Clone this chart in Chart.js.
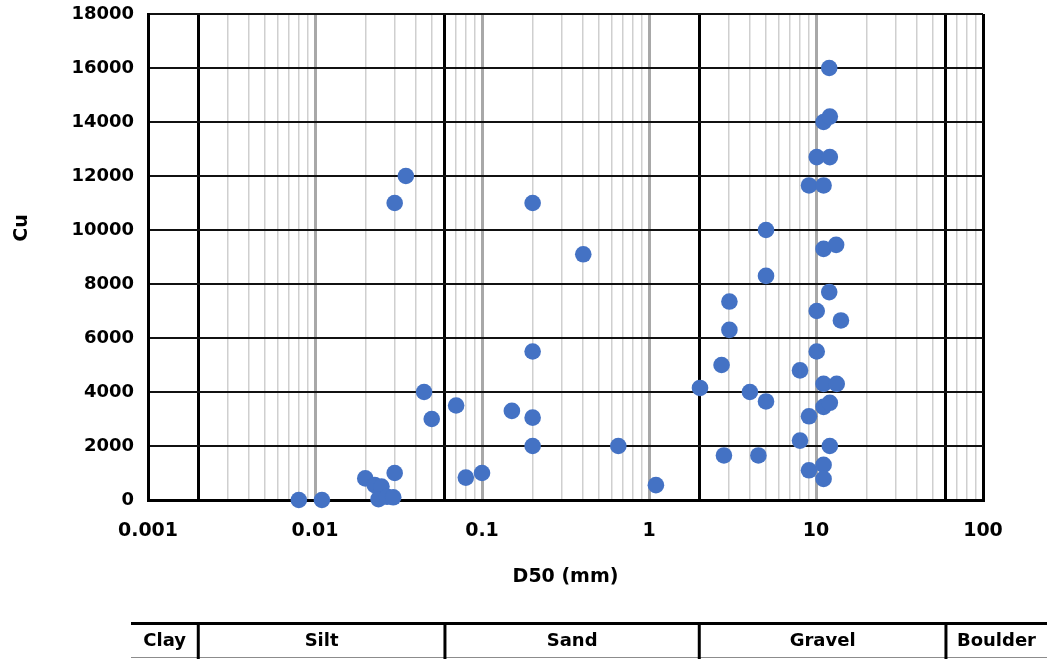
<!DOCTYPE html>
<html>
<head>
<meta charset="utf-8">
<script src="https://cdn.jsdelivr.net/npm/chart.js@4/dist/chart.umd.min.js"></script>
<style>
  html, body { margin: 0; padding: 0; background: #fff; }
  #wrap { width: 1047px; height: 659px; }
</style>
</head>
<body>
<div id="wrap"><canvas id="cuChart" width="1047" height="659"></canvas></div>
<script>
// D50 (mm) and Cu of each sample
const d50 = [
  0.008, 0.011, 0.020, 0.0228, 0.025, 0.024, 0.027, 0.0294, 0.030, 0.030,
  0.035, 0.045, 0.050, 0.070, 0.080, 0.100, 0.151, 0.201, 0.201, 0.201,
  0.201, 0.404, 0.655, 1.10, 2.02, 2.72, 2.81, 3.03, 3.03, 4.02,
  4.52, 5.02, 5.02, 5.02, 8.02, 8.02, 9.08, 9.08, 9.08, 10.1,
  10.1, 10.1, 11.1, 11.1, 11.1, 11.1, 11.1, 11.1, 11.1, 12.0,
  12.1, 12.1, 12.0, 12.1, 12.1, 13.2, 13.3, 14.1,
];
const cu = [
  0, 0, 800, 550, 500, 30, 120, 100, 1000, 11000,
  12000, 4000, 3000, 3500, 830, 1000, 3300, 11000, 5500, 3050,
  2000, 9100, 2000, 550, 4150, 5000, 1650, 7350, 6300, 4000,
  1650, 10000, 8300, 3650, 4800, 2200, 11650, 3100, 1100, 12700,
  7000, 5500, 14000, 11650, 9300, 4300, 3450, 1300, 780, 16000,
  14200, 12700, 7700, 3600, 2000, 9450, 4300, 6650,
];

// axis setup
const xTickLabels = ["0.001", "0.01", "0.1", "1", "10", "100"];
const gridDecades = [0.001, 0.01, 0.1, 1, 10];
const gridSteps = [1, 2, 3, 4, 5, 6, 7, 8, 9];
const yTicks = [0, 2000, 4000, 6000, 8000, 10000, 12000, 14000, 16000, 18000];

// soil classes and their boundaries (mm)
const soilClasses = ["Clay", "Silt", "Sand", "Gravel", "Boulder"];
const soilBounds = [0.002, 0.06, 2, 60];

const gridValues = [];
gridDecades.forEach((d) => {
  gridSteps.forEach((s) => gridValues.push(Number((d * s).toPrecision(3))));
});
gridValues.push(100);

const same = (a, b) => Math.abs(a / b - 1) < 1e-6;

function gridKind(v) {
  if (v >= 100 || soilBounds.some((b) => same(v, b))) return "bound";
  if (xTickLabels.some((t) => same(v, Number(t)))) return "decade";
  return "minor";
}

const tickFont = { family: "DejaVu Sans", size: 18, weight: "bold" };

// bottom strip with soil class names
const soilStrip = {
  id: "soilStrip",
  afterDraw(chart) {
    const ctx = chart.ctx;
    const xs = chart.scales.x;
    const top = 623.5;
    const bottom = chart.height;
    const left = chart.chartArea.left - 17;
    const right = chart.width;
    const edges = [left, ...soilBounds.map((b) => xs.getPixelForValue(b)), right];

    ctx.save();
    ctx.strokeStyle = "#000";
    ctx.lineWidth = 3;
    ctx.beginPath();
    ctx.moveTo(left, top);
    ctx.lineTo(right, top);
    ctx.stroke();

    ctx.strokeStyle = "#8c8c8c";
    ctx.lineWidth = 1;
    ctx.beginPath();
    ctx.moveTo(left, bottom - 1.5);
    ctx.lineTo(right, bottom - 1.5);
    ctx.stroke();

    ctx.strokeStyle = "#000";
    ctx.lineWidth = 3;
    for (let i = 1; i < edges.length - 1; i++) {
      ctx.beginPath();
      ctx.moveTo(edges[i], top);
      ctx.lineTo(edges[i], bottom);
      ctx.stroke();
    }

    ctx.fillStyle = "#000";
    ctx.font = "bold 18px 'DejaVu Sans'";
    ctx.textAlign = "center";
    ctx.textBaseline = "middle";
    soilClasses.forEach((name, i) => {
      ctx.fillText(name, (edges[i] + edges[i + 1]) / 2, 641);
    });

    // y axis title
    ctx.save();
    ctx.translate(22, 228);
    ctx.rotate(-Math.PI / 2);
    ctx.font = "bold 19px 'DejaVu Sans'";
    ctx.fillText("Cu", 0, 0);
    ctx.restore();

    ctx.restore();
  },
};

new Chart(document.getElementById("cuChart"), {
  type: "scatter",
  data: {
    datasets: [
      {
        label: "Cu",
        data: d50.map((x, i) => ({ x, y: cu[i] })),
        backgroundColor: "#4472C4",
        borderColor: "#4472C4",
        borderWidth: 0,
        pointRadius: 8.3,
        pointHoverRadius: 8.3,
        clip: false,
      },
    ],
  },
  options: {
    responsive: false,
    animation: false,
    events: [],
    layout: { autoPadding: false, padding: { top: 14, right: 64, bottom: 59, left: 0 } },
    plugins: {
      legend: { display: false },
      tooltip: { enabled: false },
    },
    scales: {
      x: {
        type: "logarithmic",
        min: 0.001,
        max: 100,
        afterBuildTicks(scale) {
          scale.ticks = gridValues.map((v) => ({ value: v, major: false }));
        },
        afterFit(scale) {
          scale.height = 100;
        },
        ticks: {
          autoSkip: false,
          maxRotation: 0,
          minRotation: 0,
          padding: 20,
          color: "#000",
          font: { family: "DejaVu Sans", size: 19, weight: "bold" },
          callback(value) {
            const s = String(value);
            return xTickLabels.includes(s) ? s : "";
          },
        },
        grid: {
          z: -2,
          drawTicks: false,
          color(ctx) {
            const k = gridKind(ctx.tick.value);
            if (k === "bound") return "#000";
            if (k === "decade") return "#a8a8a8";
            return "#cfcfcf";
          },
          lineWidth(ctx) {
            const k = gridKind(ctx.tick.value);
            if (k === "minor") return 1.5;
            return 3;
          },
        },
        border: { color: "#000", width: 3 },
        title: {
          display: true,
          text: "D50 (mm)",
          color: "#000",
          font: { family: "DejaVu Sans", size: 19, weight: "bold" },
          padding: { top: 0, bottom: 12 },
        },
      },
      y: {
        min: 0,
        max: 18000,
        afterBuildTicks(scale) {
          scale.ticks = yTicks.map((v) => ({ value: v }));
        },
        afterFit(scale) {
          scale.width = 148;
          scale.paddingTop = 0;
          scale.paddingBottom = 0;
        },
        ticks: {
          padding: 14,
          color: "#000",
          font: tickFont,
          callback: (v) => String(v),
        },
        grid: {
          z: -1,
          drawTicks: false,
          color: "#111",
          lineWidth: 2,
        },
        border: { color: "#000", width: 3 },
      },
    },
  },
  plugins: [soilStrip],
});
</script>
</body>
</html>
